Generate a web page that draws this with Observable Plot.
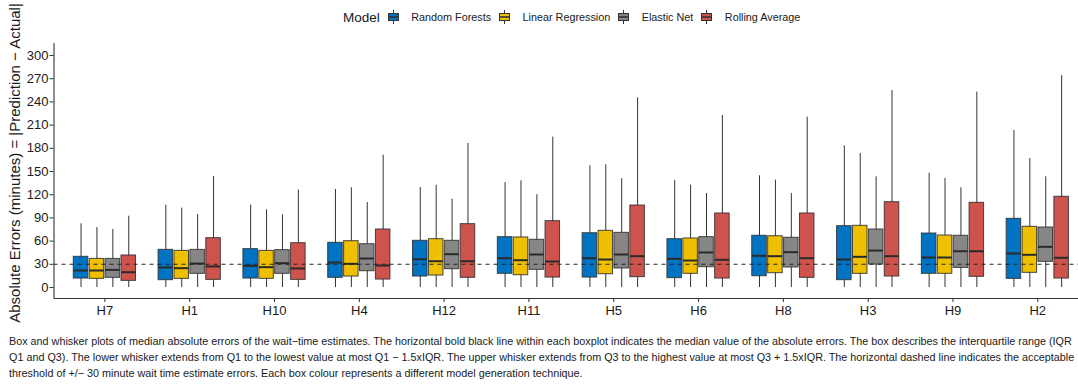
<!DOCTYPE html>
<html>
<head>
<meta charset="utf-8">
<script src="https://cdn.jsdelivr.net/npm/d3@7"></script>
<script src="https://cdn.jsdelivr.net/npm/@observablehq/plot@0.6"></script>
<style>
  html, body { margin: 0; padding: 0; background: #ffffff; overflow: hidden; }
  body { width: 1078px; height: 384px; position: relative; font-family: "Liberation Sans", Arial, Helvetica, sans-serif; color: #1a1a1a; }
  #legend { position: relative; height: 30px; }
  #legend .row { position: absolute; left: 343px; top: 0; height: 34px; display: flex; align-items: center; white-space: nowrap; }
  #legend .title { font-size: 13.5px; margin-right: 8px; }
  #legend .key { display: block; margin-right: 12.5px; }
  #legend .lab { font-size: 10.8px; margin-right: 8px; }
  #chart svg { overflow: visible; display: block; }
  #caption { position: absolute; left: 9px; top: 333px; font-size: 10.8px; line-height: 16px; white-space: nowrap; color: #1a1a1a; }
</style>
</head>
<body>
<div id="legend"></div>
<div id="chart"></div>
<div id="caption"></div>
<script>
// ---------- data ----------
const categories = ["H7","H1","H10","H4","H12","H11","H5","H6","H8","H3","H9","H2"];
const models = ["Random Forests","Linear Regression","Elastic Net","Rolling Average"];
const colors = ["#0073C2","#EFC000","#868686","#CD534C"];
const yTicks = [0,30,60,90,120,150,180,210,240,270,300];
const threshold = [30];

// [lower whisker, Q1, median, Q3, upper whisker] per category (order as categories)
const randomForests = [
  [0,11.6,22.0,39.7,82.4],[0,9.5,25.9,48.7,106.5],[0,11.6,28.0,49.6,106.5],[0,12.5,32.3,57.8,126.7],
  [0,14.2,36.6,60.4,129.3],[0,17.7,37.9,65.1,135.8],[0,12.9,37.9,70.2,157.4],[0,12.1,37.1,62.5,138.4],
  [0,14.6,41.0,66.9,144.4],[0,9.5,36.2,79.3,183.2],[0,17.7,38.8,69.8,147.8],[0,11.2,44.0,88.8,203.0]
];
const linearRegression = [
  [0,11.2,22.0,37.0,77.6],[0,11.2,25.0,47.4,102.6],[0,11.2,26.3,47.4,100.5],[0,14.2,30.6,59.9,128.9],
  [0,15.5,34.0,62.5,132.3],[0,15.9,35.3,64.7,138.0],[0,17.2,36.2,73.3,158.7],[0,17.7,34.9,63.4,132.3],
  [0,18.5,40.5,66.3,138.8],[0,17.7,39.7,79.8,173.3],[0,17.7,38.8,67.2,141.0],[0,19.0,42.3,78.5,166.8]
];
const elasticNet = [
  [0,12.5,22.8,37.0,75.0],[0,17.7,31.0,48.7,94.4],[0,17.7,31.5,48.3,94.0],[0,21.1,37.5,56.0,109.9],
  [0,23.7,43.1,60.4,114.2],[0,22.9,42.7,61.7,119.9],[0,24.6,42.7,70.7,140.6],[0,26.3,45.3,65.1,121.6],
  [0,25.9,45.7,64.3,121.6],[0,29.7,47.8,75.0,143.1],[0,25.4,46.9,66.9,128.9],[0,33.2,52.6,77.6,143.1]
];
const rollingAverage = [
  [0,8.6,19.8,41.4,92.2],[0,9.9,27.2,63.8,143.5],[0,9.9,24.6,57.3,126.0],[0,10.3,28.4,75.0,171.1],
  [0,12.5,34.0,81.9,186.2],[0,12.9,33.6,85.8,194.4],[0,13.4,40.5,106.0,245.3],[0,11.6,35.8,95.7,222.4],
  [0,12.5,37.9,95.7,220.3],[0,14.2,40.5,110.3,254.8],[0,13.8,46.9,109.5,252.6],[0,11.6,38.4,117.3,274.0]
];

const captionLines = [
  "Box and whisker plots of median absolute errors of the wait\u2212time estimates. The horizontal bold black line within each boxplot indicates the median value of the absolute errors. The box describes the interquartile range (IQR",
  "Q1 and Q3). The lower whisker extends from Q1 to the lowest value at most Q1 \u2212 1.5xIQR. The upper whisker extends from Q3 to the highest value at most Q3 + 1.5xIQR. The horizontal dashed line indicates the acceptable",
  "threshold of +/\u2212 30 minute wait time estimate errors. Each box colour represents a different model generation technique."
];
const yLabel = "Absolute Errors (minutes) = |Prediction \u2212 Actual|";

// ---------- table ----------
const series = [randomForests, linearRegression, elasticNet, rollingAverage];
const dodge = 0.1875, half = 0.0855;
const rows = [];
categories.forEach((c, i) => {
  series.forEach((s, j) => {
    const [lo, q1, med, q3, hi] = s[i];
    rows.push({category: c, model: models[j], pos: i + 1 + (j - 1.5) * dodge, lo, q1, med, q3, hi});
  });
});

// ---------- legend ----------
const legend = document.getElementById("legend");
const row = document.createElement("div");
row.className = "row";
row.innerHTML = `<span class="title">Model</span>` + models.map((m, j) =>
  `<svg class="key" width="11" height="14" viewBox="0 0 11 14">
     <line x1="5.5" x2="5.5" y1="0" y2="14" stroke="#333" stroke-width="1"/>
     <rect x="0.5" y="3.5" width="10" height="7" fill="${colors[j]}" stroke="#333" stroke-width="1"/>
     <line x1="0.5" x2="10.5" y1="7" y2="7" stroke="#333" stroke-width="1.6"/>
   </svg><span class="lab">${m}</span>`).join("");
legend.appendChild(row);

// ---------- chart ----------
const yMin = -14.2, yMax = 315.5, xMin = 0.4, xMax = 12.48;
const chart = Plot.plot({
  width: 1078,
  height: 300,
  marginLeft: 53.5,
  marginRight: 0,
  marginTop: 13,
  marginBottom: 32,
  style: {fontFamily: "Liberation Sans, Arial, sans-serif", color: "#1a1a1a", background: "transparent", overflow: "visible"},
  x: {domain: [xMin, xMax]},
  y: {domain: [yMin, yMax]},
  color: {domain: models, range: colors},
  marks: [
    Plot.ruleX(rows, {x: "pos", y1: "lo", y2: "hi", stroke: "#333", strokeWidth: 1}),
    Plot.rect(rows, {x1: d => d.pos - half, x2: d => d.pos + half, y1: "q1", y2: "q3", fill: "model", stroke: "#333", strokeWidth: 1, strokeOpacity: 0.9}),
    Plot.ruleY(rows, {y: "med", x1: d => d.pos - half, x2: d => d.pos + half, stroke: "#2a2a2a", strokeWidth: 2}),
    Plot.ruleY(threshold, {stroke: "#222", strokeWidth: 1.1, strokeDasharray: "4,4"}),
    Plot.ruleX([xMin], {y1: yMin, y2: yMax, stroke: "#333", strokeWidth: 1.1}),
    Plot.ruleY([yMin], {stroke: "#333", strokeWidth: 1.1}),
    Plot.axisY({ticks: yTicks, tickSize: 4, tickPadding: 1.5, fontSize: 13, label: null, stroke: "#333"}),
    Plot.axisX({ticks: d3.range(1, categories.length + 1), tickFormat: i => categories[i - 1], tickSize: 4, tickPadding: 3, fontSize: 13, label: null, stroke: "#333"}),
    Plot.text([yLabel], {frameAnchor: "left", textAnchor: "middle", lineAnchor: "middle", rotate: -90, dx: -38.5, dy: -8, fontSize: 15, fill: "#1a1a1a"})
  ]
});
document.getElementById("chart").appendChild(chart);

// ---------- caption ----------
document.getElementById("caption").innerHTML = captionLines.map(l => `<div>${l}</div>`).join("");
</script>
</body>
</html>
